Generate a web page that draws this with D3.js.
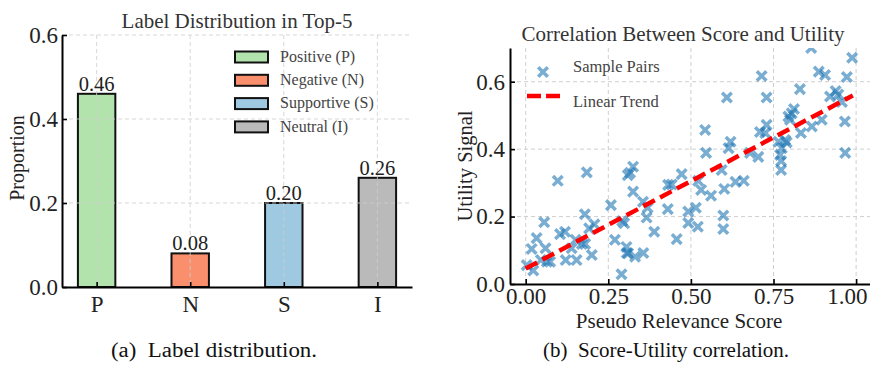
<!DOCTYPE html>
<html>
<head>
<meta charset="utf-8">
<script src="https://cdn.jsdelivr.net/npm/d3@7"></script>
<style>
  body { margin: 0; background: #fff; }
  svg text { font-family: "Liberation Serif", "Times New Roman", serif; }
  .axis path, .axis line { stroke: #000; }
  .axis path { stroke-width: 2; }
  .axis line { stroke-width: 1.6; }
  .axis text { font-size: 23px; fill: #222; font-family: "Liberation Serif", serif; }
  .grid line { stroke: #cfcfcf; stroke-dasharray: 4,3; stroke-width: 1; }
</style>
</head>
<body>
<svg id="fig" width="870" height="376"></svg>
<script>
// ---- data: (a) label distribution ----
const categories = ["P", "N", "S", "I"];
const proportions = [0.46, 0.08, 0.20, 0.26];
const legendNames = ["Positive (P)", "Negative (N)", "Supportive (S)", "Neutral (I)"];
const barTicks = [0.0, 0.2, 0.4, 0.6];

// ---- data: (b) score / utility pairs ----
const scoreX = [
  0.003, 0.023, 0.018, 0.033, 0.056, 0.060, 0.046, 0.064, 0.074, 0.097,
  0.104, 0.119, 0.121, 0.154, 0.139, 0.151, 0.170, 0.180, 0.200, 0.185,
  0.179, 0.192, 0.208, 0.258, 0.270, 0.290, 0.292, 0.298, 0.305, 0.310,
  0.309, 0.325, 0.325, 0.331, 0.356, 0.355, 0.366, 0.369, 0.389, 0.431,
  0.442, 0.430, 0.457, 0.472, 0.492, 0.492, 0.515, 0.521, 0.522, 0.531,
  0.543, 0.546, 0.561, 0.593, 0.601, 0.598, 0.598, 0.609, 0.614, 0.620,
  0.635, 0.660, 0.679, 0.704, 0.709, 0.725, 0.729, 0.714, 0.729, 0.765,
  0.775, 0.770, 0.773, 0.773, 0.785, 0.790, 0.795, 0.800, 0.805, 0.812,
  0.830, 0.833, 0.864, 0.866, 0.887, 0.896, 0.906, 0.921, 0.938, 0.946,
  0.957, 0.972, 0.966, 0.967, 0.988, 0.316, 0.306
];
const utilityY = [
  0.056, 0.040, 0.104, 0.136, 0.183, 0.106, 0.071, 0.066, 0.066, 0.306,
  0.148, 0.155, 0.071, 0.071, 0.106, 0.131, 0.119, 0.119, 0.086, 0.331,
  0.207, 0.165, 0.177, 0.234, 0.131, 0.029, 0.187, 0.180, 0.110, 0.091,
  0.323, 0.348, 0.274, 0.081, 0.092, 0.244, 0.197, 0.226, 0.155, 0.294,
  0.295, 0.222, 0.133, 0.326, 0.215, 0.181, 0.226, 0.170, 0.306, 0.279,
  0.457, 0.389, 0.262, 0.338, 0.282, 0.203, 0.163, 0.553, 0.403, 0.422,
  0.303, 0.306, 0.389, 0.377, 0.451, 0.448, 0.472, 0.617, 0.553, 0.422,
  0.403, 0.383, 0.365, 0.338, 0.427, 0.420, 0.497, 0.487, 0.506, 0.519,
  0.578, 0.448, 0.700, 0.467, 0.630, 0.487, 0.620, 0.556, 0.572, 0.562,
  0.540, 0.614, 0.482, 0.389, 0.671, 0.330, 0.092
];
const trendX = [0.0, 0.99];
const trendY = [0.046, 0.559];
const scoreTicks = [0.0, 0.25, 0.5, 0.75, 1.0];
const utilityTicks = [0.0, 0.2, 0.4, 0.6];

const barColors = ["#b3e3ad", "#fa8f6e", "#9fc9e0", "#bababa"];

const svg = d3.select("#fig");
svg.append("rect").attr("width", 870).attr("height", 376).attr("fill", "#fff");

/* ---------- (a) bar chart ---------- */
const xBar = d3.scaleLinear().domain([-0.37, 3.37]).range([62, 412]);
const yBar = d3.scaleLinear().domain([0, 0.6]).range([287, 35]);
const barW = xBar(0.4) - xBar(0);

const left = svg.append("g");

left.append("g").attr("class", "bars")
  .selectAll("rect").data(proportions).enter().append("rect")
  .attr("x", (d, i) => xBar(i) - barW / 2)
  .attr("y", d => yBar(d))
  .attr("width", barW)
  .attr("height", d => yBar(0) - yBar(d))
  .attr("fill", (d, i) => barColors[i])
  .attr("stroke", "#111")
  .attr("stroke-width", 2);

// grid (sits on top, faint like the original)
const gridA = left.append("g").attr("class", "grid").attr("opacity", 0.8);
gridA.selectAll(".v").data(d3.range(categories.length)).enter().append("line")
  .attr("x1", i => xBar(i)).attr("x2", i => xBar(i))
  .attr("y1", yBar(0.6)).attr("y2", yBar(0));
gridA.selectAll(".h").data(barTicks.slice(1)).enter().append("line")
  .attr("x1", xBar.range()[0]).attr("x2", xBar.range()[1])
  .attr("y1", d => yBar(d)).attr("y2", d => yBar(d));

left.append("g").attr("class", "axis")
  .attr("transform", `translate(${xBar.range()[0]},0)`)
  .call(d3.axisLeft(yBar).tickValues(barTicks).tickFormat(d3.format(".1f"))
    .tickSizeInner(-5).tickSizeOuter(0).tickPadding(4));

left.append("g").attr("class", "axis")
  .attr("transform", `translate(0,${yBar(0)})`)
  .call(d3.axisBottom(xBar).tickValues(d3.range(categories.length))
    .tickFormat(i => categories[i]).tickSizeInner(-5).tickSizeOuter(0).tickPadding(9));

// value labels
left.selectAll(".val").data(proportions).enter().append("text")
  .attr("x", (d, i) => xBar(i))
  .attr("y", d => yBar(d) - 3)
  .attr("text-anchor", "middle")
  .attr("font-size", 20.5)
  .attr("fill", "#222")
  .text(d => d.toFixed(2));

left.append("text")
  .attr("x", 237).attr("y", 28)
  .attr("text-anchor", "middle").attr("font-size", 21).attr("fill", "#333")
  .text("Label Distribution in Top-5");

left.append("text")
  .attr("transform", "translate(24,158) rotate(-90)")
  .attr("text-anchor", "middle").attr("font-size", 20).attr("fill", "#222")
  .text("Proportion");

// legend
const legA = left.append("g").attr("transform", "translate(235,57)");
legendNames.forEach((name, i) => {
  const row = legA.append("g").attr("transform", `translate(0,${i * 23.3})`);
  row.append("rect").attr("x", 0).attr("y", -5.5).attr("width", 33).attr("height", 11)
    .attr("fill", barColors[i]).attr("stroke", "#111").attr("stroke-width", 2);
  row.append("text").attr("x", 45).attr("y", 0).attr("dy", "0.3em")
    .attr("font-size", 16).attr("fill", "#444").text(name);
});

/* ---------- (b) scatter ---------- */
const xSc = d3.scaleLinear().domain([-0.0475, 1.042]).range([510, 870]);
const ySc = d3.scaleLinear().domain([0, 0.7]).range([284, 48]);

const right = svg.append("g");

right.append("clipPath").attr("id", "plotclip")
  .append("rect").attr("x", 510).attr("y", 48).attr("width", 360).attr("height", 236);

const gridB = right.append("g").attr("class", "grid");
gridB.selectAll(".v").data(scoreTicks).enter().append("line")
  .attr("x1", d => xSc(d)).attr("x2", d => xSc(d))
  .attr("y1", ySc.range()[1]).attr("y2", ySc.range()[0]);
gridB.selectAll(".h").data(utilityTicks.slice(1)).enter().append("line")
  .attr("x1", xSc.range()[0]).attr("x2", xSc.range()[1])
  .attr("y1", d => ySc(d)).attr("y2", d => ySc(d));

// x markers
function cross(sel, s) {
  sel.append("path").attr("d", `M${-s},${-s}L${s},${s}M${-s},${s}L${s},${-s}`);
}
const pts = right.append("g").attr("clip-path", "url(#plotclip)")
  .attr("stroke", "#1f77b4").attr("stroke-opacity", 0.6).attr("stroke-width", 3.5).attr("fill", "none");
scoreX.forEach((x, i) => {
  const g = pts.append("g").attr("transform", `translate(${xSc(x)},${ySc(utilityY[i])})`);
  cross(g, 4.8);
});

// linear trend
right.append("path")
  .datum(trendX.map((x, i) => [x, trendY[i]]))
  .attr("d", d3.line().x(d => xSc(d[0])).y(d => ySc(d[1])))
  .attr("stroke", "#ff0000").attr("stroke-width", 4.5)
  .attr("stroke-dasharray", "13,6").attr("fill", "none");

right.append("g").attr("class", "axis")
  .attr("transform", `translate(${xSc.range()[0]},0)`)
  .call(d3.axisLeft(ySc).tickValues(utilityTicks).tickFormat(d3.format(".1f"))
    .tickSizeInner(-5).tickSizeOuter(0).tickPadding(5));

const xAxisB = right.append("g").attr("class", "axis")
  .attr("transform", `translate(0,${ySc(0)})`)
  .call(d3.axisBottom(xSc).tickValues(scoreTicks).tickFormat(d3.format(".2f"))
    .tickSizeInner(-5).tickSizeOuter(0).tickPadding(4));
// last label is pulled in so it ends at the figure edge
xAxisB.selectAll(".tick text").filter(d => d === 1).attr("text-anchor", "end").attr("dx", "11");

right.append("text")
  .attr("x", 683).attr("y", 41)
  .attr("text-anchor", "middle").attr("font-size", 21).attr("fill", "#333")
  .text("Correlation Between Score and Utility");

right.append("text")
  .attr("x", 679).attr("y", 328)
  .attr("text-anchor", "middle").attr("font-size", 21).attr("fill", "#222")
  .text("Pseudo Relevance Score");

right.append("text")
  .attr("transform", "translate(472,166) rotate(-90)")
  .attr("text-anchor", "middle").attr("font-size", 20.5).attr("fill", "#222")
  .text("Utility Signal");

// legend
const legB = right.append("g");
const lm = legB.append("g").attr("transform", "translate(543,72)")
  .attr("stroke", "#1f77b4").attr("stroke-opacity", 0.6).attr("stroke-width", 3.5);
cross(lm, 4.8);
legB.append("text").attr("x", 573).attr("y", 67).attr("dy", "0.32em")
  .attr("font-size", 16.5).attr("fill", "#444").text("Sample Pairs");
legB.append("line").attr("x1", 527).attr("x2", 560).attr("y1", 96).attr("y2", 96)
  .attr("stroke", "#ff0000").attr("stroke-width", 4.5).attr("stroke-dasharray", "14,5");
legB.append("text").attr("x", 573).attr("y", 102).attr("dy", "0.32em")
  .attr("font-size", 16.5).attr("fill", "#444").text("Linear Trend");

/* ---------- captions ---------- */
svg.append("text").attr("x", 214).attr("y", 357).attr("text-anchor", "middle")
  .attr("font-size", 20).attr("fill", "#111")
  .attr("textLength", 206).attr("lengthAdjust", "spacingAndGlyphs")
  .text("(a)\u2002Label distribution.");
svg.append("text").attr("x", 666).attr("y", 357).attr("text-anchor", "middle")
  .attr("font-size", 20).attr("fill", "#111")
  .attr("textLength", 246).attr("lengthAdjust", "spacingAndGlyphs")
  .text("(b)\u2002Score-Utility correlation.");
</script>
</body>
</html>
